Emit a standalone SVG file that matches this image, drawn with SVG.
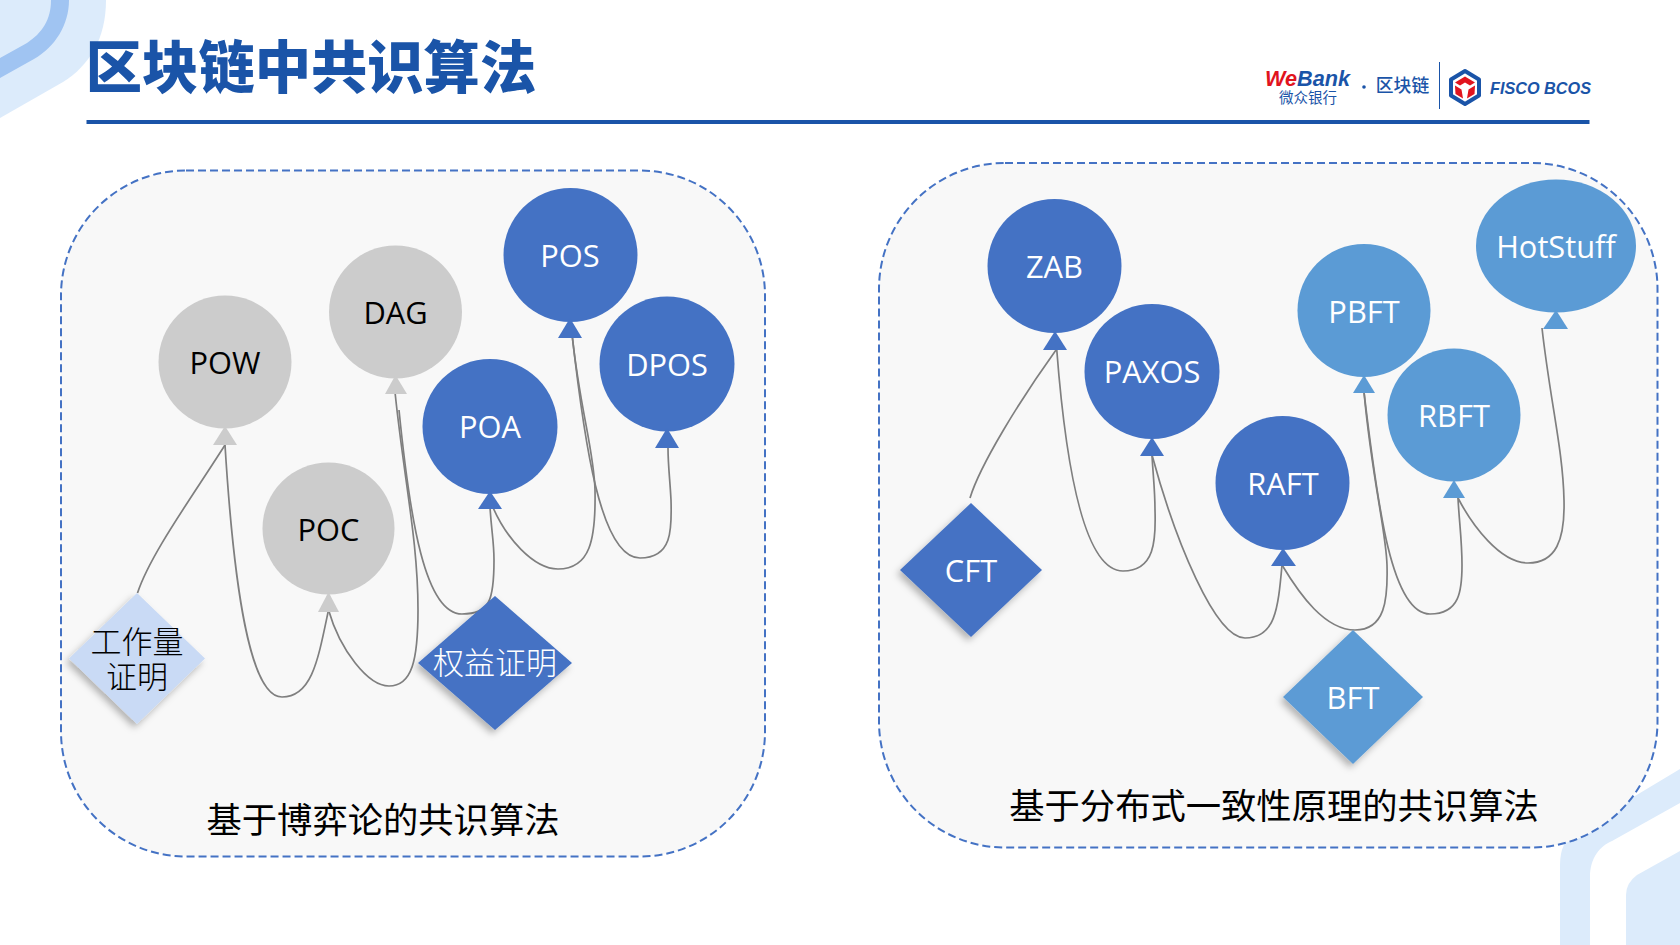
<svg xmlns="http://www.w3.org/2000/svg" width="1680" height="945" viewBox="0 0 1680 945">
<style>
text{font-family:"Open Sans","Noto Sans CJK SC",sans-serif;text-anchor:middle}
.cjk{font-family:"Noto Sans CJK SC",sans-serif}
.lbl{font-size:30.800px}
.w{fill:#fff}.k{fill:#000}
.gray{fill:#CCCCCC}.blue{fill:#4472C4}.sky{fill:#5B9BD5}.pale{fill:#C9DAF5}
.deco{fill:#DCEBFB}
.panel{fill:#F8F8F8;stroke:#4472C4;stroke-width:2;stroke-dasharray:8 4}
.link{fill:none;stroke:#7F7F7F;stroke-width:1.700}
.dia{filter:url(#sh)}
.cap{font-size:35.300px;fill:#000}
.d{font-size:31px;font-weight:300}
</style>
<defs>
<filter id="sh" x="-20%" y="-20%" width="140%" height="140%"><feDropShadow dx="-3" dy="4" stdDeviation="3.500" flood-color="#000" flood-opacity=".28"/></filter>
</defs>

<!-- corner decoration -->
<path class="deco" d="M0,0H106C106,38 90,65 63,82L0,118Z"/>
<path fill="#A0C4F2" d="M51,0H69C69,25 55,47 34,59L0,78V58L27,43C42,33 51,20 51,0Z"/>
<path class="deco" d="M1680,769L1575,832Q1560,842 1560,865V945H1590V877C1590,858 1600,846 1612,841L1680,803Z"/>
<path class="deco" d="M1680,851L1637,875Q1626,883 1626,895V945H1680Z"/>

<!-- heading -->
<text class="cjk" x="311" y="88" font-size="56.300" font-weight="900" fill="#1A54A8">区块链中共识算法</text>
<rect x="86.500" y="120" width="1503" height="4" fill="#1A54A8"/>

<!-- brand strip -->
<g id="brand">
<text x="1265" y="86" stroke="currentColor" style="text-anchor:start;font-family:'Liberation Sans',sans-serif;font-weight:700;font-style:italic;font-size:22px;stroke-width:0" textLength="85" lengthAdjust="spacingAndGlyphs"><tspan fill="#E1141E">We</tspan><tspan fill="#1A54A8">Bank</tspan></text>
<text class="cjk" x="1308" y="102.500" font-size="14.500" fill="#1A54A8">微众银行</text>
<circle cx="1364" cy="87" r="1.800" fill="#1A54A8"/>
<text class="cjk" x="1402.500" y="92" font-size="17.800" font-weight="500" fill="#1A54A8">区块链</text>
<rect x="1439" y="62" width="1" height="47" fill="#1A54A8"/>
<path d="M1465,71L1479,79.500V95.500L1465,104L1451,95.500V79.500Z" fill="#fff" stroke="#1A54A8" stroke-width="4" stroke-linejoin="round"/>
<path d="M1465,76.500L1475,82.500L1470,85.500L1465,82.500L1460,85.500L1455,82.500Z" fill="#E1141E"/>
<path d="M1455,85.500L1461.500,89.500L1463,98.500L1455.500,94Z" fill="#E1141E"/>
<path d="M1475,85.500L1468.500,89.500L1467,98.500L1474.500,94Z" fill="#E1141E"/>
<text x="1490" y="94" style="text-anchor:start;font-family:'Liberation Sans',sans-serif;font-weight:700;font-style:italic;font-size:17px" fill="#1A54A8" textLength="101" lengthAdjust="spacingAndGlyphs">FISCO BCOS</text>
</g>

<!-- group panels -->
<rect id="panel-game" class="panel" x="61" y="170.500" width="704" height="686" rx="125"/>
<rect id="panel-dist" class="panel" x="879" y="163" width="778.500" height="684.500" rx="126"/>
<text class="cap cjk" x="383" y="833">基于博弈论的共识算法</text>
<text class="cap cjk" x="1274" y="819">基于分布式一致性原理的共识算法</text>

<!-- connectors -->
<g id="connectors">
<path class="link" d="M137.500,593C150,555 190,500 225,445"/>
<path class="link" d="M225,445C234,590 250,697 282,697C312,697 318,660 328.500,610"/>
<path class="link" d="M328.500,610C340,650 368,686 389,686C412,686 418,660 418,610C418,540 404,480 395,392"/>
<path class="link" d="M399,410C410,520 425,614 462,614C490,614 494,600 494,560C494,540 491,530 489.500,499"/>
<path class="link" d="M489.500,499C505,540 535,569 558,569C590,569 596,540 595,490C594,450 580,410 572,334"/>
<path class="link" d="M572,334C584,440 600,558 640,558C672,558 672,530 671,500C670,480 668,465 668,448"/>
<path class="link" d="M970,498C980,465 1020,400 1056.700,349"/>
<path class="link" d="M1056.700,349C1066,470 1085,571 1123,571C1155,571 1156,540 1155,510C1155,490 1153,475 1152,455"/>
<path class="link" d="M1152,455C1175,540 1215,638 1245,638C1275,638 1278,610 1282,565"/>
<path class="link" d="M1282,565C1300,595 1325,630 1355,630C1385,630 1388,600 1387,565C1386,530 1372,480 1364,392"/>
<path class="link" d="M1364,392C1378,510 1392,614 1430,614C1460,614 1462,590 1462,565C1462,540 1459,520 1458,498"/>
<path class="link" d="M1458,498C1472,525 1500,563 1528,563C1556,563 1565,540 1564,500C1563,450 1550,400 1542,328"/>
</g>

<!-- proof-based nodes -->
<g id="POW"><circle class="gray" cx="225" cy="362" r="66.500"/><path class="gray" d="M225,426L237,445H213Z"/><text class="lbl k" x="225" y="374">POW</text></g>
<g id="DAG"><circle class="gray" cx="395.500" cy="312" r="66.500"/><path class="gray" d="M395.500,375L407,394H385Z"/><text class="lbl k" x="395.500" y="324">DAG</text></g>
<g id="POC"><circle class="gray" cx="328.500" cy="528.500" r="66"/><path class="gray" d="M328.500,592L339,612H318Z"/><text class="lbl k" x="328.500" y="541">POC</text></g>
<g id="POS"><circle class="blue" cx="570.500" cy="255" r="67"/><path class="blue" d="M570,318L582,338H558Z"/><text class="lbl w" x="570" y="267">POS</text></g>
<g id="DPOS"><circle class="blue" cx="667" cy="364" r="67.500"/><path class="blue" d="M667,428L679,448H655Z"/><text class="lbl w" x="667" y="375.500">DPOS</text></g>
<g id="POA"><circle class="blue" cx="490" cy="426.500" r="67.500"/><path class="blue" d="M490,491L502,509H478Z"/><text class="lbl w" x="490" y="438">POA</text></g>

<!-- consistency-based nodes -->
<g id="ZAB"><circle class="blue" cx="1054.500" cy="266" r="67"/><path class="blue" d="M1055,331L1067,350H1043Z"/><text class="lbl w" x="1054.500" y="278">ZAB</text></g>
<g id="PAXOS"><circle class="blue" cx="1152" cy="371.500" r="67.500"/><path class="blue" d="M1152,437L1164,456H1140Z"/><text class="lbl w" x="1152" y="383">PAXOS</text></g>
<g id="RAFT"><circle class="blue" cx="1282.500" cy="483" r="67"/><path class="blue" d="M1283,548L1296,566H1271Z"/><text class="lbl w" x="1283" y="495">RAFT</text></g>
<g id="PBFT"><circle class="sky" cx="1364" cy="310.500" r="66.500"/><path class="sky" d="M1364,375L1375,393H1353Z"/><text class="lbl w" x="1364" y="322.500">PBFT</text></g>
<g id="RBFT"><circle class="sky" cx="1454" cy="415" r="66.500"/><path class="sky" d="M1454,480L1465,498H1443Z"/><text class="lbl w" x="1454" y="427">RBFT</text></g>
<g id="HotStuff"><ellipse class="sky" cx="1556" cy="246" rx="80" ry="66.500"/><path class="sky" d="M1556,310L1568,329H1543Z"/><text class="lbl w" x="1556" y="258">HotStuff</text></g>

<!-- category diamonds -->
<g id="d-work"><path class="pale dia" d="M137,593L205,658.500L137,724L69,658.500Z"/><text class="d cjk k"><tspan x="137" y="653">工作量</tspan><tspan x="137" y="688">证明</tspan></text></g>
<g id="d-stake"><path class="blue dia" d="M495,596L572,663L495,730L418,663Z"/><text class="d cjk w" x="495" y="674">权益证明</text></g>
<g id="d-cft"><path class="blue dia" d="M971,503L1042,570L971,637L900,570Z"/><text class="lbl w" x="971" y="582">CFT</text></g>
<g id="d-bft"><path class="sky dia" d="M1353,630L1423,697L1353,764L1283,697Z"/><text class="lbl w" x="1353" y="709">BFT</text></g>
</svg>
